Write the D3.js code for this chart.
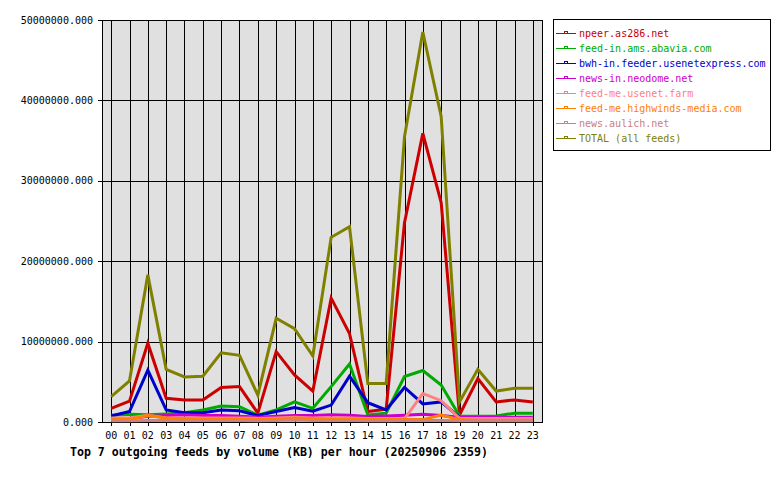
<!DOCTYPE html>
<html><head><meta charset="utf-8">
<script src="https://cdn.jsdelivr.net/npm/d3@7"></script>
<style>body{margin:0;background:#fff}svg{display:block}</style>
</head><body><svg id="c" width="780" height="480"></svg>
<script>
const hours = ["00","01","02","03","04","05","06","07","08","09","10","11","12","13","14","15","16","17","18","19","20","21","22","23"];
const UNIT = 1000000;
const npeer      = [1.7,2.6,9.8,2.95,2.75,2.75,4.3,4.4,1.1,8.75,5.85,3.85,15.4,11.0,1.3,1.6,24.8,35.9,27.3,0.87,5.4,2.5,2.75,2.5];
const abavia     = [0.85,0.95,0.9,1.0,1.15,1.5,2.0,1.9,0.85,1.5,2.5,1.7,4.4,7.2,0.87,1.1,5.65,6.4,4.6,0.75,0.7,0.75,1.1,1.1];
const usenetexp  = [0.75,1.3,6.45,1.5,1.15,1.15,1.5,1.4,0.8,1.3,1.8,1.35,2.1,5.7,2.4,1.5,4.3,2.25,2.5,0.6,0.4,0.4,0.4,0.4];
const neodome    = [0.3,0.4,0.7,0.8,0.9,0.8,0.8,0.7,0.6,0.7,0.8,0.8,0.9,0.85,0.7,0.75,0.85,0.95,0.8,0.6,0.55,0.6,0.6,0.6];
const usenetfarm = [0.5,0.5,0.85,0.5,0.5,0.5,0.5,0.5,0.45,0.5,0.6,0.5,0.5,0.5,0.45,0.45,0.4,3.55,2.65,0.45,0.45,0.45,0.45,0.45];
const highwinds  = [0.3,0.3,0.8,0.5,0.4,0.3,0.3,0.3,0.3,0.3,0.5,0.4,0.3,0.3,0.3,0.3,0.3,0.3,0.85,0.3,0.2,0.2,0.2,0.2];
const aulich     = [0.15,0.15,0.2,0.2,0.2,0.2,0.2,0.2,0.15,0.2,0.25,0.2,0.2,0.2,0.15,0.15,0.2,0.2,0.2,0.15,0.15,0.15,0.15,0.15];
const total      = [3.15,5.1,18.3,6.55,5.6,5.7,8.6,8.3,3.35,12.9,11.6,8.2,22.97,24.3,4.8,4.8,35.5,48.5,38.0,2.5,6.55,3.85,4.2,4.2];
const yTicks = [0,10,20,30,40,50];
const seriesNames = ["npeer.as286.net","feed-in.ams.abavia.com","bwh-in.feeder.usenetexpress.com","news-in.neodome.net","feed-me.usenet.farm","feed-me.highwinds-media.com","news.aulich.net","TOTAL (all feeds)"];
const seriesValues = [npeer,abavia,usenetexp,neodome,usenetfarm,highwinds,aulich,total];
const seriesColors = ["#cc0000","#00aa00","#0000cc","#cc00cc","#ff8080","#ff8000","#cc8080","#808000"];
const title = "Top 7 outgoing feeds by volume (KB) per hour (20250906 2359)";

const svg = d3.select("#c");
const L=102, R=542, T=20, B=422;
const x = d3.scaleBand().domain(hours).range([L,R]);
const y = d3.scaleLinear().domain([0,50*UNIT]).range([B,T]);
const font = "'DejaVu Sans Mono', monospace";

svg.append("rect").attr("x",L).attr("y",T).attr("width",R-L).attr("height",B-T).attr("fill","#e0e0e0");

// vertical grid
svg.append("g").selectAll("line").data(hours).join("line")
  .attr("x1",d=>Math.round(x(d)+x.bandwidth()/2)+0.5).attr("x2",d=>Math.round(x(d)+x.bandwidth()/2)+0.5)
  .attr("y1",T).attr("y2",B+4).attr("stroke","#000").attr("stroke-width",1);
// horizontal grid
svg.append("g").selectAll("line").data(yTicks).join("line")
  .attr("x1",L-4).attr("x2",R).attr("y1",d=>Math.round(y(d*UNIT))+0.5).attr("y2",d=>Math.round(y(d*UNIT))+0.5)
  .attr("stroke","#000").attr("stroke-width",1);
// frame
svg.append("rect").attr("x",L+0.5).attr("y",T+0.5).attr("width",R-L).attr("height",B-T)
  .attr("fill","none").attr("stroke","#000").attr("stroke-width",1);

// y labels
svg.append("g").selectAll("text").data(yTicks).join("text")
  .attr("x",93).attr("y",d=>y(d*UNIT)).attr("dy","0.35em").attr("text-anchor","end")
  .attr("font-family",font).attr("font-size",10).attr("fill","#000")
  .text(d=>d3.format(".3f")(d*UNIT));
// x labels
svg.append("g").selectAll("text").data(hours).join("text")
  .attr("x",d=>x(d)+x.bandwidth()/2).attr("y",435).attr("dy","0.35em").attr("text-anchor","middle")
  .attr("font-family",font).attr("font-size",10).attr("fill","#000").text(d=>d);

// lines
const line = d3.line().x((d,i)=>x(hours[i])+x.bandwidth()/2).y(d=>y(d*UNIT));
svg.append("g").selectAll("path").data(seriesValues).join("path")
  .attr("d",d=>line(d)).attr("fill","none").attr("stroke",(d,i)=>seriesColors[i])
  .attr("stroke-width",3).attr("stroke-linejoin","miter");

// title
svg.append("text").attr("x",70).attr("y",456).attr("font-family",font).attr("font-weight","bold")
  .attr("font-size",11.6).attr("fill","#000").attr("textLength",418).attr("lengthAdjust","spacing").text(title);

// legend
const lg = svg.append("g");
lg.append("rect").attr("x",553.5).attr("y",19.5).attr("width",217).attr("height",131).attr("fill","#fff").attr("stroke","#000");
const rows = lg.selectAll("g").data(seriesNames).join("g").attr("transform",(d,i)=>`translate(0,${33+i*15})`);
rows.append("line").attr("x1",556).attr("x2",576).attr("y1",0.5).attr("y2",0.5).attr("stroke",(d,i)=>seriesColors[i]).attr("stroke-width",1);
rows.append("rect").attr("x",564.5).attr("y",-1.5).attr("width",3).attr("height",2).attr("fill","none").attr("stroke",(d,i)=>seriesColors[i]).attr("stroke-width",1);
rows.append("text").attr("x",579).attr("y",0).attr("dy","0.35em").attr("font-family",font).attr("font-size",10)
  .attr("fill",(d,i)=>seriesColors[i]).text(d=>d);
</script></body></html>
